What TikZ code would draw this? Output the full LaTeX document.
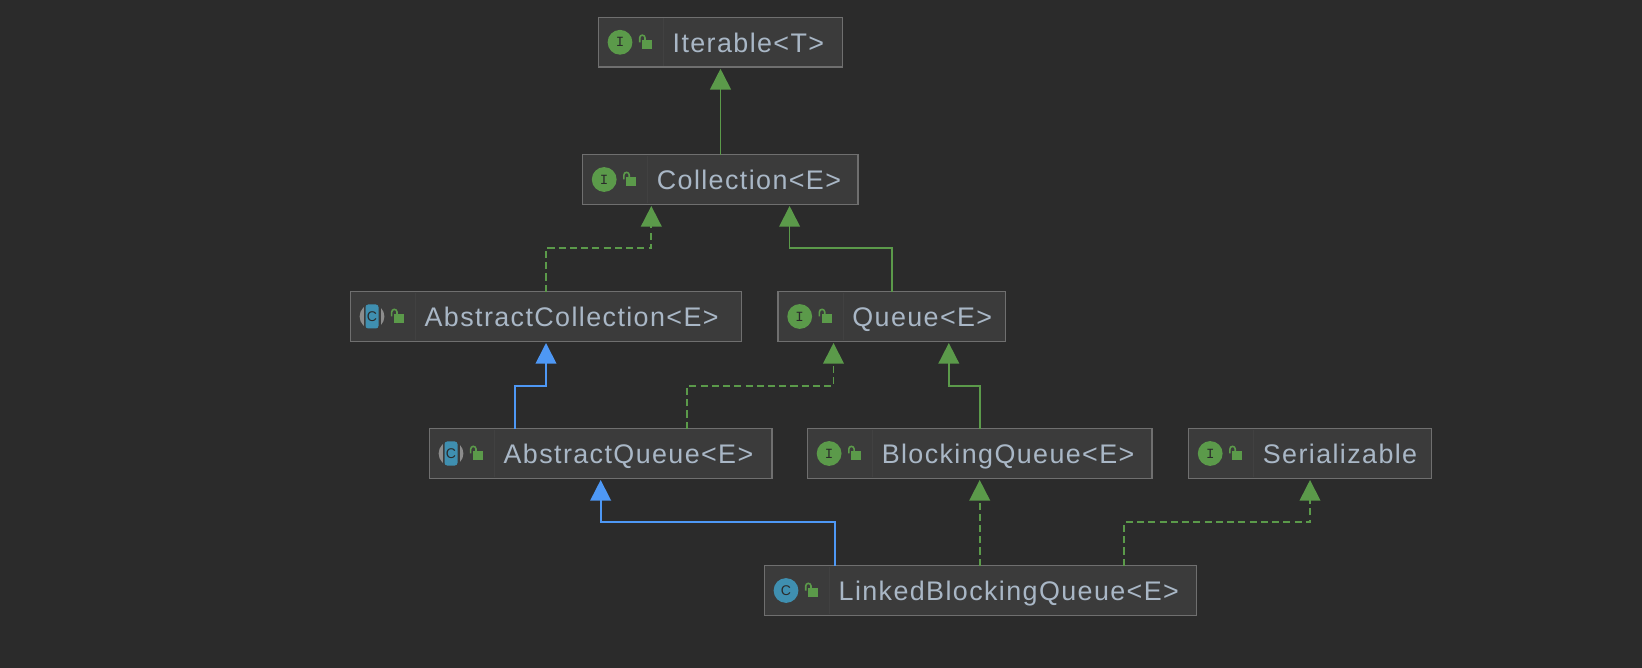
\documentclass[tikz,border=0pt]{standalone}
\usepackage{fontspec}
\setmainfont{Liberation Sans}[LetterSpace=5.2]
\newfontfamily\glyphfont{Liberation Mono}
\usetikzlibrary{arrows.meta, positioning}

\definecolor{panelbg}{HTML}{2B2B2B}
\definecolor{boxfill}{HTML}{3B3B3B}
\definecolor{boxline}{HTML}{6F6F6F}
\definecolor{boxtext}{HTML}{A9B7C6}
\definecolor{implgreen}{HTML}{5B9A4A}
\definecolor{extblue}{HTML}{4E98F5}
\definecolor{clsblue}{HTML}{3F8FB0}

\tikzset{
    classbox/.style={draw=boxline, fill=boxfill, line width=0.8pt, minimum height=0.99cm, outer sep=0pt, inner sep=0pt},
    classtext/.style={text=boxtext, font=\fontsize{15.3}{18}\selectfont, anchor=base west, inner sep=0pt},
    extline/.style={draw=implgreen, line width=1pt, -{Triangle[length=11.8pt, width=11.8pt, fill=implgreen]}, shorten >=1pt},
    impline/.style={extline, dash pattern=on 4pt off 2.4pt},
    absline/.style={extline, draw=extblue, -{Triangle[length=11.8pt, width=11.8pt, fill=extblue]}},
    lockpic/.pic={
        \fill[implgreen] (-5,-4.5) rectangle (5,4.5);
        \draw[implgreen, line width=0.9pt] (-7.3,-2) -- (-7.3,-6.5) arc (180:360:2.65) -- (-2,-4.5);
    },
    iface/.pic={
        \fill[implgreen] (0,0) circle (12.4);
        \node[text=panelbg, font=\glyphfont\fontsize{8}{9}\selectfont] (iglyph) at (0,0) {I};
    },
    plaincls/.pic={
        \fill[clsblue] (0,0) circle (12.4);
        \node[text=panelbg, font=\fontsize{8}{9}\selectfont] (cglyph) at (0,0) {C};
    },
    abstractcls/.pic={
        \fill[boxline!80!white] (0,0) circle (12.4);
        \fill[boxfill] (-8.5,-13) rectangle (8.5,13);
        \fill[clsblue, rounded corners=1.5pt] (-6.5,-12) rectangle (6.5,12);
        \node[text=panelbg, font=\fontsize{8}{9}\selectfont] (aglyph) at (0,0) {C};
    },
}

\begin{document}
\begin{tikzpicture}[x=0.02cm, y=-0.02cm]
    \useasboundingbox[fill=panelbg] (0,0) rectangle (1642,668);

    % Class boxes
    \foreach \name/\lft/\rgt/\top/\kind/\caption in {
        iterable/598.3/842.7/17.5/iface/Iterable<T>,
        collection/582.5/858/154.7/iface/Collection<E>,
        abstractcollection/350.3/741.7/291.7/abstractcls/AbstractCollection<E>,
        queue/778/1005.3/291.7/iface/Queue<E>,
        abstractqueue/429.3/772/428.7/abstractcls/AbstractQueue<E>,
        blockingqueue/807.4/1152/428.7/iface/BlockingQueue<E>,
        serializable/1188.5/1431.5/428.7/iface/Serializable,
        linkedblockingqueue/764.3/1196.7/565.7/plaincls/LinkedBlockingQueue<E>
    } {
        \pgfmathsetmacro\boxwidth{(\rgt-\lft)*0.02}
        \node[classbox, minimum width=\boxwidth cm] (\name) at ({(\lft+\rgt)/2}, \top+24.8) {};
        \draw[boxline!12!boxfill, line width=0.4pt] (\lft+65,\top+1) -- (\lft+65,\top+48.6);
        \pic at (\lft+21.7,\top+24.8) {\kind};
        \pic at (\lft+48.7,\top+26.8) {lockpic};
        \node[classtext] (\name-label) at (\lft+74,\top+35) {\caption};
    }

    % Connectors
    \draw[extline] (iterable.south |- collection.north) -- (iterable.south);
    \draw[impline] (abstractcollection.north) -- ++(0,-43.5) -| (651.3,0 |- collection.south);
    \draw[extline] (queue.north) -- ++(0,-43.5) -| (789.6,0 |- collection.south);
    \draw[absline] (515,0 |- abstractqueue.north) -- ++(0,-43) -| (abstractcollection.south);
    \draw[impline] (687.3,0 |- abstractqueue.north) -- ++(0,-43) -| (833.5,0 |- queue.south);
    \draw[extline] (980.3,0 |- blockingqueue.north) -- ++(0,-43) -| (948.8,0 |- queue.south);
    \draw[absline] (835.3,0 |- linkedblockingqueue.north) -- ++(0,-43.4) -| (abstractqueue.south);
    \draw[impline] (blockingqueue.south |- linkedblockingqueue.north) -- (blockingqueue.south);
    \draw[impline] (1124.3,0 |- linkedblockingqueue.north) -- ++(0,-43.4) -| (serializable.south);
\end{tikzpicture}
\end{document}
